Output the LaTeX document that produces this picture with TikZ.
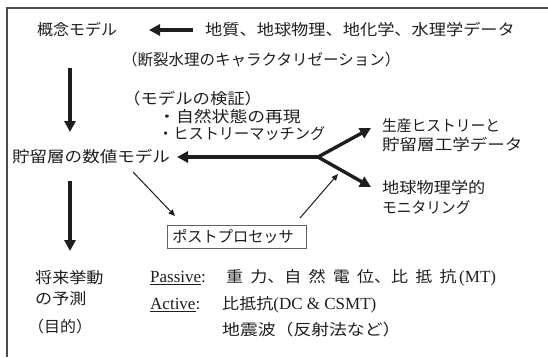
\documentclass[tikz,border=0pt]{standalone}
\usepackage{fontspec}
\setmainfont{Liberation Serif}
\newfontfamily\jp{Noto Sans CJK JP}
\usetikzlibrary{arrows.meta}
\definecolor{ink}{HTML}{1E1E1E}
\newcommand{\myhs}[2]{\scalebox{#1}[1]{#2}}
\newcommand{\lsp}{\kern6.5pt}
\newcommand{\ser}[1]{{\rmfamily\fontsize{17}{20}\selectfont #1}}
\tikzset{
  jt/.style={anchor=west,inner sep=0pt,text=ink,font=\jp\fontsize{15.5}{18}\selectfont},
  st/.style={anchor=west,inner sep=0pt,text=ink,font=\rmfamily\fontsize{17}{20}\selectfont},
  bigarrow/.style={line width=3.4pt,draw=ink,-{Triangle[length=11pt,width=11pt]}},
  thinarrow/.style={line width=1pt,draw=ink,-{Triangle[length=6.5pt,width=5.5pt]}},
  frame/.style={line width=1.1pt,draw=ink!80},
  boxed/.style={draw=ink!70,line width=0.6pt,inner xsep=5pt,inner ysep=0pt,minimum height=23pt},
}
\begin{document}
\begin{tikzpicture}[x=1pt,y=-1pt]
\useasboundingbox (0,0) rectangle (548,357);
\draw[frame] (7,357) -- (7,8) -- (548,8);
\node[jt] (concept) at (37,30) {\myhs{1.03}{概念モデル}};
\node[jt] (data) at (205,30) {\myhs{1.11}{地質、地球物理、地化学、水理学データ}};
\coordinate (datatail) at (193,30);
\coordinate (concepttip) at (149,30);
\draw[bigarrow] (datatail) -- (concepttip);
\node[jt] (frac) at (122,60) {\myhs{1.0}{（断裂水理のキャラクタリゼーション）}};
\node[jt] (verif) at (123,99) {\myhs{1.12}{（モデルの検証）}};
\node[jt] (nat) at (158,117) {\myhs{1.15}{・自然状態の再現}};
\node[jt] (hist) at (158,134) {\myhs{0.98}{・ヒストリーマッチング}};
\node[jt] (num) at (12,157) {\myhs{1.13}{貯留層の数値モデル}};
\node[jt] (prod1) at (382,126) {\myhs{0.95}{生産ヒストリーと}};
\node[jt] (prod2) at (382,145) {\myhs{1.13}{貯留層工学データ}};
\node[jt] (geo1) at (382,188) {\myhs{1.11}{地球物理学的}};
\node[jt] (geo2) at (382,208) {\myhs{0.95}{モニタリング}};
\node[jt,boxed] (post) at (167,236.5) {\myhs{0.98}{ポストプロセッサ}\hspace*{7pt}};
\node[jt] (fut1) at (35,278) {\myhs{1.1}{将来挙動}};
\node[jt] (fut2) at (35,299) {\myhs{1.1}{の予測}};
\node[jt] (fut3) at (28,327) {\myhs{1.03}{（目的）}};
\node[st] (pas) at (150,278) {\underline{Passive}:};
\node[jt] (pasv) at (226,278) {\myhs{1.1}{重\lsp 力、自\lsp 然\lsp 電\lsp 位、比\lsp 抵\lsp 抗}\,\ser{(MT)}};
\node[st] (act) at (150,305) {\underline{Active}:};
\node[jt] (actv) at (222,305) {\myhs{1.1}{比抵抗}\ser{(DC \& CSMT)}};
\node[jt] (seis) at (222,330) {\myhs{1.15}{地震波（反射法など）}};
% vertical arrows
\coordinate (v1a) at (70,68);
\coordinate (v1b) at (70,132);
\coordinate (v2a) at (70,181);
\coordinate (v2b) at (70,251);
\draw[bigarrow] (v1a) -- (v1b);
\draw[bigarrow] (v2a) -- (v2b);
% double arrow
\coordinate (junc) at (318,157);
\coordinate (numtip) at (177,157);
\coordinate (prodtip) at (371,128);
\coordinate (geotip) at (371,187);
\draw[bigarrow] (junc) -- (numtip);
\draw[bigarrow] (junc) -- (prodtip);
\draw[bigarrow] (junc) -- (geotip);
% thin arrows
\coordinate (t1a) at (133,172);
\coordinate (t1b) at (175,216);
\coordinate (t2a) at (300,218);
\coordinate (t2b) at (338,174);
\draw[thinarrow] (t1a) -- (t1b);
\draw[thinarrow] (t2a) -- (t2b);
\end{tikzpicture}
\end{document}
